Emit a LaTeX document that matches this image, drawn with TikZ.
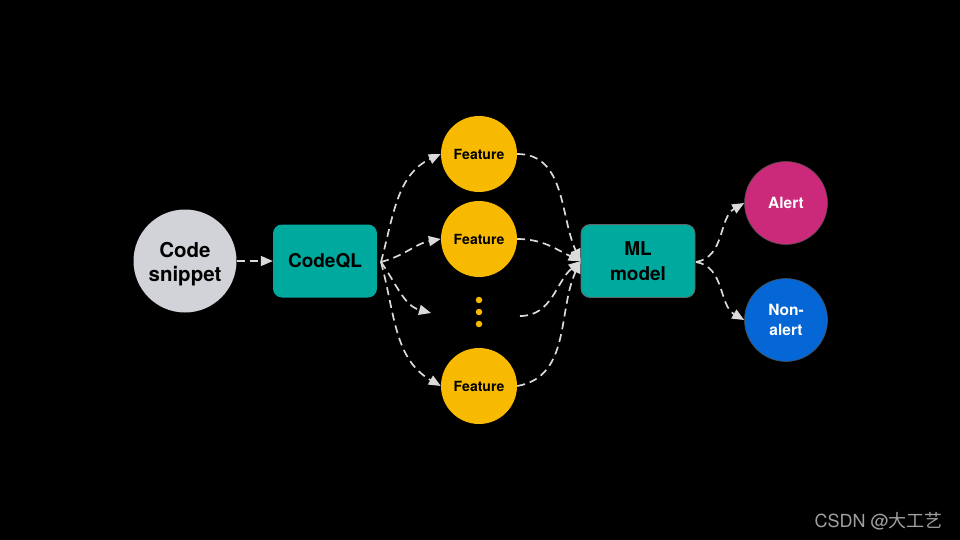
\documentclass[tikz,border=0pt]{standalone}
\usepackage{fontspec}
\setmainfont{TeX Gyre Heros}
\newfontfamily\cjk{Noto Sans CJK SC}
\usetikzlibrary{arrows.meta}
\definecolor{snip}{HTML}{D1D3D8}
\definecolor{teal}{HTML}{00A99D}
\definecolor{feat}{HTML}{F8BA00}
\definecolor{alertc}{HTML}{CB2A7B}
\definecolor{nonc}{HTML}{0567D6}
\definecolor{arr}{HTML}{DADADA}
\definecolor{wm}{HTML}{A0A0A0}
\begin{document}
\begin{tikzpicture}[x=1pt,y=1pt,
  every node/.style={font=\bfseries, align=center, inner sep=0pt},
  snipnode/.style={circle, fill=snip, minimum size=103pt, font=\bfseries\fontsize{20.5}{24}\selectfont},
  boxnode/.style={rounded corners=9pt, fill=teal, minimum width=104pt, minimum height=73pt, font=\bfseries\fontsize{19}{25}\selectfont},
  featnode/.style={circle, fill=feat, minimum size=76pt, font=\bfseries\fontsize{14}{16}\selectfont},
  outnode/.style={circle, draw=black!70!white, line width=0.6pt, minimum size=83pt, text=white, font=\bfseries\fontsize{15.5}{20}\selectfont},
  flow/.style={draw=arr, line width=1.7pt, dash pattern=on 8pt off 5pt, -{Triangle[length=12pt,width=10pt]}},
  dotc/.style={circle, fill=feat, minimum size=6.5pt}
]
\fill[black] (0,0) rectangle (960,-540);
\useasboundingbox (0,0) rectangle (960,-540);

\node[snipnode] (snip) at (185,-261) {\raisebox{-3pt}[\height][\depth]{\parbox{90pt}{\centering Code\\snippet}}};
\node[boxnode] (cql) at (325,-261) {CodeQL};
\node[featnode] (f1) at (479,-154) {Feature};
\node[featnode] (f2) at (479,-239) {Feature};
\node[featnode] (f3) at (479,-386) {Feature};
\node[dotc] (d1) at (479,-300) {};
\node[dotc] (d2) at (479,-312) {};
\node[dotc] (d3) at (479,-324) {};
\node[boxnode, draw=black!60!white, line width=0.8pt, minimum width=114pt] (ml) at (638,-261) {ML\\model};
\node[outnode, fill=alertc] (al) at (786,-203) {Alert};
\node[outnode, fill=nonc] (na) at (786,-320) {Non-\\alert};
\node[text=wm, font=\fontsize{18}{20}\selectfont, anchor=base east] (wmk) at (943,-527) {CSDN @{\cjk 大工艺}};

\coordinate (cqo) at (381,-262);
\coordinate (dotin) at (431,-313);
\coordinate (dotout) at (520,-316);
\coordinate (mlin) at (ml.west);
\coordinate (mlo) at (696,-262);

\draw[flow] (snip.east) -- (cql.west);
\draw[flow] (cqo) to[out=75,in=205] (f1.west);
\draw[flow] (cqo) to[out=15,in=190] (f2.west);
\draw[flow] (cqo) to[out=-55,in=165] (dotin);
\draw[flow] (cqo) to[out=-75,in=150] (f3.west);

\draw[flow] (f1.east) to[out=0,in=115] (mlin);
\draw[flow] (f2.east) to[out=0,in=155] (mlin);
\draw[flow] (dotout) to[out=0,in=220] (mlin);
\draw[flow] (f3.east) to[out=10,in=245] (mlin);

\draw[flow] (mlo) to[out=10,in=210] (al.west);
\draw[flow] (mlo) to[out=-10,in=150] (na.west);
\end{tikzpicture}
\end{document}
